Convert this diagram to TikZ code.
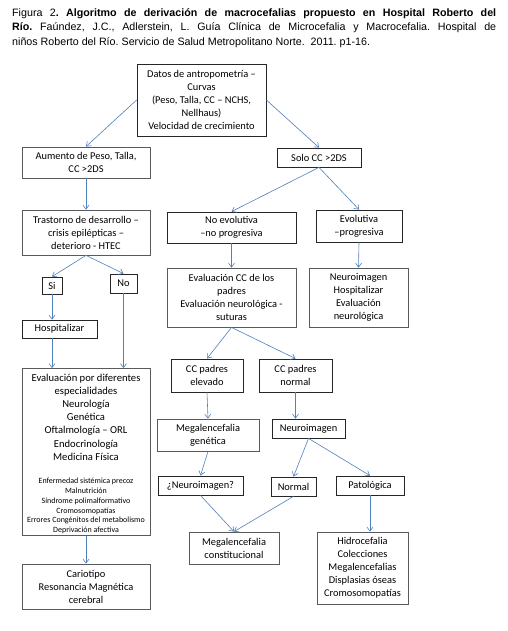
\documentclass[tikz,border=0pt]{standalone}
\usepackage{fontspec}
\setmainfont{Carlito}
\newfontfamily\arialf{Liberation Sans}
\usetikzlibrary{arrows.meta}
\definecolor{arrowblue}{HTML}{4F81BD}
\definecolor{bdgray}{HTML}{5A5A5A}
\definecolor{bddark}{HTML}{262626}
\newcommand{\bx}[7]{\node[box,draw=#6,minimum width={#4-#2},minimum height={#5-#3}] (#1) at ({(#2+#4)/2},{(#3+#5)/2}) {#7};}
\begin{document}
\frenchspacing
\begin{tikzpicture}[x=1pt,y=-1pt,
  box/.style={rectangle,inner sep=0pt,align=center,font=\fontsize{10.4}{13}\selectfont,line width=0.8pt},
  arr/.style={draw=arrowblue,line width=0.6pt,-{Straight Barb[length=4pt,width=6pt]}}]
\useasboundingbox[fill=white] (0,0) rectangle (508,631);
\node[anchor=north west,inner sep=0pt,text width=484pt,align=justify,font=\arialf\fontsize{10.7}{14.5}\selectfont] (title) at (12,8)
{\frenchspacing Figura 2\textbf{. Algoritmo de derivación de macrocefalias propuesto en Hospital Roberto del}\linebreak
\textbf{Río.} Faúndez, J.C., Adlerstein, L. Guía Clínica de Microcefalia y Macrocefalia. Hospital de\linebreak
niños Roberto del Río. Servicio de Salud Metropolitano Norte.\ \ 2011. p1-16.\par};
\bx{datos}{137}{64}{266}{136}{bddark}{Datos de antropometría –\\Curvas\\(Peso, Talla, CC – NCHS,\\Nellhaus)\\Velocidad de crecimiento}
\bx{aum}{22}{147}{150}{178}{bdgray}{Aumento de Peso, Talla,\\CC >2DS}
\bx{solo}{277}{148}{361}{167}{bddark}{Solo CC >2DS}
\bx{tras}{22}{210}{150}{255}{bdgray}{Trastorno de desarrollo –\\crisis epilépticas –\\deterioro - HTEC}
\bx{si}{42}{277}{62}{294}{bddark}{Si}
\bx{no}{110}{274}{137}{293}{bddark}{No}
\bx{hosp}{22}{320}{97}{338}{bddark}{Hospitalizar}
\node[box,draw=bdgray,minimum width=128,minimum height=167,anchor=north] (evp) at (86,368) {};
\node[inner sep=0pt,align=center,anchor=north,font=\fontsize{10.6}{13.1}\selectfont] (evptxt) at (86,374) {Evaluación por diferentes\\especialidades\\Neurología\\Genética\\Oftalmología – ORL\\Endocrinología\\Medicina Física};
\node[inner sep=0pt,align=center,anchor=north,font=\fontsize{8}{9.8}\selectfont] (evpsmall) at (86,478) {Enfermedad sistémica precoz\\Malnutrición\\Síndrome polimalformativo\\Cromosomopatías\\Errores Congénitos del metabolismo\\Deprivación afectiva};
\bx{cario}{22}{564}{150}{609}{bdgray}{Cariotipo\\Resonancia Magnética\\cerebral}
\bx{noev}{167}{212}{296}{243}{bddark}{No evolutiva\\–no progresiva}
\bx{evol}{316}{210}{402}{242}{bddark}{Evolutiva\\–progresiva}
\bx{evcc}{167}{268}{296}{327}{bdgray}{Evaluación CC de los\\padres\\Evaluación neurológica -\\suturas}
\bx{nhosp}{309}{268}{408}{327}{bdgray}{Neuroimagen\\Hospitalizar\\Evaluación\\neurológica}
\bx{elev}{171}{359}{243}{392}{bddark}{CC padres\\elevado}
\bx{ccnor}{259}{359}{332}{392}{bddark}{CC padres\\normal}
\bx{megg}{157}{419}{259}{451}{bdgray}{Megalencefalia\\genética}
\bx{neuro}{272}{419}{345}{438}{bddark}{Neuroimagen}
\bx{qneuro}{158}{476}{243}{495}{bddark}{¿Neuroimagen?}
\bx{normal}{271}{477}{316}{496}{bddark}{Normal}
\bx{pato}{336}{476}{404}{495}{bddark}{Patológica}
\bx{megc}{189}{532}{279}{564}{bdgray}{Megalencefalia\\constitucional}
\bx{hidro}{317}{532}{408}{604}{bdgray}{Hidrocefalia\\Colecciones\\Megalencefalias\\Displasias óseas\\Cromosomopatías}
% connectors
\draw[arr] (datos.west) -- (aum.north);
\draw[arr] (datos.east) -- (solo.north);
\draw[arr] (aum.south) -- (tras.north);
\draw[arr] (solo.south) -- (noev.north);
\draw[arr] (solo.south) -- (evol.north);
\draw[arr] (tras.south) -- (si.north);
\draw[arr] (tras.south) -- (no.north);
\draw[arr] (si.south) -- (si.south |- hosp.north);
\draw[arr] (si.south |- hosp.south) -- (si.south |- evp.north);
\draw[arr] (no.south) -- (no.south |- evp.north);
\draw[arr] (evp.south) -- (cario.north);
\draw[arr] (noev.south) -- (evcc.north);
\draw[arr] (evol.south) -- (nhosp.north);
\draw[arr] (evcc.south) -- (elev.north);
\draw[arr] (evcc.south) -- (ccnor.north);
\draw[arr] (elev.south) -- (megg.north);
\draw[arr] (ccnor.south) -- (ccnor.south |- neuro.north);
\draw[arr] (megg.south) -- (qneuro.north);
\draw[arr] (neuro.south) -- (normal.north);
\draw[arr] (neuro.south) -- (pato.north);
\draw[arr] (qneuro.south) -- (megc.north);
\draw[arr] (normal.south) -- (megc.north);
\draw[arr] (pato.south) -- (pato.south |- hidro.north);
\end{tikzpicture}
\end{document}
